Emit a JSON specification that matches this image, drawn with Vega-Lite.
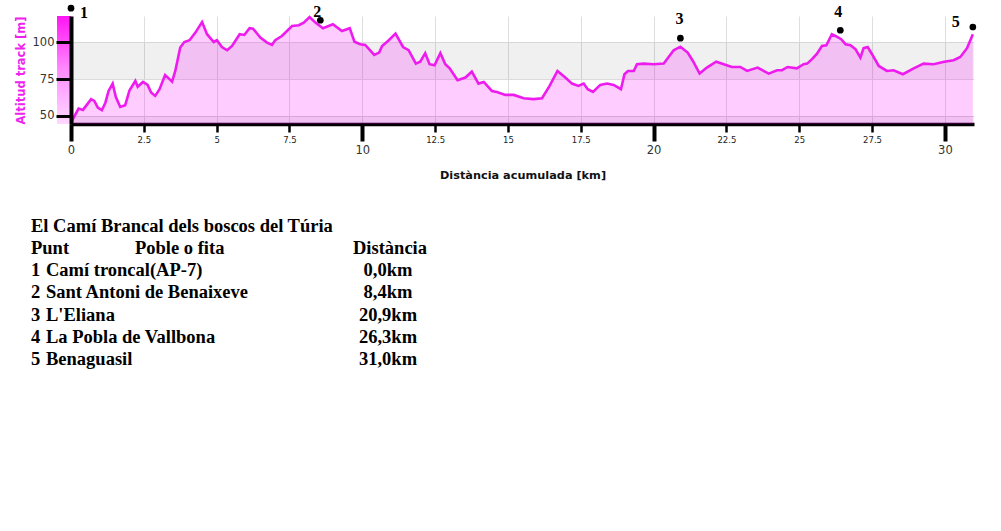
{
  "$schema": "https://vega.github.io/schema/vega-lite/v6.json",
  "background": "white",
  "padding": {"left": 15, "top": 4, "right": 0, "bottom": 0},
  "bounds": "flush",
  "spacing": 96.6,
  "config": {"view": {"stroke": null}, "font": "DejaVu Sans"},
  "datasets": {
    "perfil": [
      {"km": 0.0, "alt": 45.5}, {"km": 0.26, "alt": 55.0}, {"km": 0.41, "alt": 54.1}, {"km": 0.69, "alt": 61.4},
      {"km": 0.8, "alt": 60.2}, {"km": 0.92, "alt": 55.6}, {"km": 1.06, "alt": 53.9}, {"km": 1.18, "alt": 59.0},
      {"km": 1.29, "alt": 67.0}, {"km": 1.43, "alt": 72.0}, {"km": 1.54, "alt": 62.9}, {"km": 1.69, "alt": 56.1},
      {"km": 1.86, "alt": 57.3}, {"km": 2.01, "alt": 67.5}, {"km": 2.21, "alt": 73.8}, {"km": 2.29, "alt": 69.9},
      {"km": 2.47, "alt": 73.1}, {"km": 2.63, "alt": 71.1}, {"km": 2.75, "alt": 65.9}, {"km": 2.89, "alt": 63.6},
      {"km": 3.04, "alt": 68.2}, {"km": 3.23, "alt": 77.9}, {"km": 3.47, "alt": 73.3}, {"km": 3.58, "alt": 80.6},
      {"km": 3.75, "alt": 96.5}, {"km": 3.89, "alt": 100.3}, {"km": 4.07, "alt": 101.5}, {"km": 4.27, "alt": 106.7},
      {"km": 4.5, "alt": 113.9}, {"km": 4.67, "alt": 105.6}, {"km": 4.9, "alt": 100.3}, {"km": 5.01, "alt": 101.5},
      {"km": 5.18, "alt": 96.9}, {"km": 5.36, "alt": 94.7}, {"km": 5.53, "alt": 97.6}, {"km": 5.79, "alt": 105.6},
      {"km": 5.95, "alt": 105.1}, {"km": 6.13, "alt": 109.7}, {"km": 6.25, "alt": 109.4}, {"km": 6.5, "alt": 103.3},
      {"km": 6.73, "alt": 99.9}, {"km": 6.9, "alt": 98.3}, {"km": 7.01, "alt": 101.5}, {"km": 7.24, "alt": 104.4},
      {"km": 7.59, "alt": 111.2}, {"km": 7.82, "alt": 111.7}, {"km": 7.99, "alt": 113.5}, {"km": 8.19, "alt": 117.3},
      {"km": 8.39, "alt": 113.5}, {"km": 8.65, "alt": 109.7}, {"km": 8.99, "alt": 112.4}, {"km": 9.3, "alt": 107.8},
      {"km": 9.57, "alt": 109.7}, {"km": 9.73, "alt": 100.5}, {"km": 9.93, "alt": 98.8}, {"km": 10.1, "alt": 98.3},
      {"km": 10.41, "alt": 91.5}, {"km": 10.58, "alt": 93.1}, {"km": 10.68, "alt": 97.6}, {"km": 10.91, "alt": 101.5},
      {"km": 11.14, "alt": 106.0}, {"km": 11.4, "alt": 96.9}, {"km": 11.59, "alt": 94.7}, {"km": 11.84, "alt": 85.6},
      {"km": 11.99, "alt": 86.9}, {"km": 12.16, "alt": 92.7}, {"km": 12.31, "alt": 85.2}, {"km": 12.48, "alt": 84.5},
      {"km": 12.68, "alt": 92.7}, {"km": 12.85, "alt": 85.2}, {"km": 13.0, "alt": 82.4}, {"km": 13.27, "alt": 74.3},
      {"km": 13.54, "alt": 76.1}, {"km": 13.76, "alt": 80.1}, {"km": 13.99, "alt": 72.0}, {"km": 14.17, "alt": 73.1},
      {"km": 14.45, "alt": 67.0}, {"km": 14.62, "alt": 66.3}, {"km": 14.91, "alt": 64.3}, {"km": 15.2, "alt": 64.3},
      {"km": 15.54, "alt": 62.0}, {"km": 15.88, "alt": 61.4}, {"km": 16.17, "alt": 62.0}, {"km": 16.43, "alt": 70.4},
      {"km": 16.7, "alt": 80.6}, {"km": 16.97, "alt": 76.1}, {"km": 17.2, "alt": 72.0}, {"km": 17.42, "alt": 70.4},
      {"km": 17.6, "alt": 72.0}, {"km": 17.74, "alt": 68.2}, {"km": 17.92, "alt": 66.3}, {"km": 18.17, "alt": 71.1},
      {"km": 18.4, "alt": 72.0}, {"km": 18.63, "alt": 71.1}, {"km": 18.88, "alt": 68.2}, {"km": 19.0, "alt": 78.4},
      {"km": 19.12, "alt": 80.6}, {"km": 19.32, "alt": 80.6}, {"km": 19.43, "alt": 85.2}, {"km": 19.66, "alt": 85.6},
      {"km": 20.0, "alt": 85.2}, {"km": 20.35, "alt": 85.6}, {"km": 20.69, "alt": 94.7}, {"km": 20.92, "alt": 97.1},
      {"km": 21.17, "alt": 93.1}, {"km": 21.35, "alt": 87.4}, {"km": 21.58, "alt": 78.8}, {"km": 21.83, "alt": 82.9},
      {"km": 22.15, "alt": 86.9}, {"km": 22.41, "alt": 85.2}, {"km": 22.69, "alt": 83.3}, {"km": 22.98, "alt": 83.3},
      {"km": 23.21, "alt": 80.6}, {"km": 23.57, "alt": 82.9}, {"km": 23.95, "alt": 78.8}, {"km": 24.24, "alt": 81.1},
      {"km": 24.41, "alt": 81.1}, {"km": 24.6, "alt": 83.3}, {"km": 24.92, "alt": 82.4}, {"km": 25.15, "alt": 85.2},
      {"km": 25.27, "alt": 85.6}, {"km": 25.44, "alt": 88.6}, {"km": 25.61, "alt": 92.4}, {"km": 25.78, "alt": 97.6},
      {"km": 25.93, "alt": 98.1}, {"km": 26.12, "alt": 105.6}, {"km": 26.24, "alt": 104.4}, {"km": 26.44, "alt": 102.2},
      {"km": 26.59, "alt": 98.8}, {"km": 26.76, "alt": 98.1}, {"km": 26.93, "alt": 95.4}, {"km": 27.1, "alt": 89.7},
      {"km": 27.21, "alt": 96.1}, {"km": 27.35, "alt": 96.9}, {"km": 27.5, "alt": 92.0}, {"km": 27.73, "alt": 84.0},
      {"km": 28.01, "alt": 80.6}, {"km": 28.24, "alt": 81.1}, {"km": 28.56, "alt": 78.4}, {"km": 28.93, "alt": 82.4},
      {"km": 29.27, "alt": 85.6}, {"km": 29.61, "alt": 85.2}, {"km": 29.98, "alt": 86.9}, {"km": 30.3, "alt": 87.9},
      {"km": 30.53, "alt": 90.1}, {"km": 30.76, "alt": 96.1}, {"km": 30.96, "alt": 105.6}
    ],
    "punts": [
      {"punt": 1, "lloc": "Camí troncal(AP-7)", "distancia": "0,0km", "km": 0.0, "alt": 123.3},
      {"punt": 2, "lloc": "Sant Antoni de Benaixeve", "distancia": "8,4km", "km": 8.56, "alt": 115.1},
      {"punt": 3, "lloc": "L'Eliana", "distancia": "20,9km", "km": 20.92, "alt": 102.9},
      {"punt": 4, "lloc": "La Pobla de Vallbona", "distancia": "26,3km", "km": 26.41, "alt": 108.3},
      {"punt": 5, "lloc": "Benaguasil", "distancia": "31,0km", "km": 30.96, "alt": 110.5}
    ],
    "bandes": [
      {"desde": 44.5, "fins": 50},
      {"desde": 75, "fins": 100}
    ]
  },
  "vconcat": [
    {
      "width": 903,
      "height": 108,
      "resolve": {"axis": {"x": "independent", "y": "independent"}},
      "layer": [
        {
          "data": {"name": "bandes"},
          "mark": {"type": "rect", "color": "#000000", "opacity": 0.058},
          "encoding": {
            "x": {"datum": 0, "type": "quantitative", "scale": {"domain": [0, 31], "nice": false, "zero": false}, "axis": null},
            "x2": {"datum": 31},
            "y": {"field": "desde", "type": "quantitative", "scale": {"domain": [44.5, 118], "nice": false, "zero": false}, "axis": null},
            "y2": {"field": "fins"}
          }
        },
        {
          "data": {"name": "perfil"},
          "mark": {"type": "area", "color": "#ff00ff", "opacity": 0.2},
          "encoding": {
            "x": {"field": "km", "type": "quantitative", "scale": {"domain": [0, 31], "nice": false, "zero": false},
              "axis": {"orient": "bottom", "values": [0, 2.5, 5, 7.5, 10, 12.5, 15, 17.5, 20, 22.5, 25, 27.5, 30],
                "labelExpr": "datum.value % 10 === 0 ? '' : '' + datum.value",
                "domain": false, "tickSize": 8, "tickWidth": 2.5, "tickColor": "#000000",
                "labelFont": "DejaVu Sans", "labelFontSize": 8.5, "labelColor": "#222222", "labelPadding": 3,
                "labelFlush": false, "labelOverlap": false, "labelBound": false,
                "grid": true, "gridColor": "#dedede", "gridWidth": 1, "title": null}},
            "y": {"field": "alt", "type": "quantitative", "scale": {"domain": [44.5, 118], "nice": false, "zero": false},
              "axis": {"orient": "left", "values": [50, 75, 100], "grid": true, "gridColor": "#dedede", "gridWidth": 1,
                "domain": false, "ticks": false, "labels": false, "title": null}},
            "y2": {"datum": 44.5}
          }
        },
        {
          "data": {"values": [{}]},
          "mark": {"type": "rect", "color": {"gradient": "linear", "x1": 0, "y1": 1, "x2": 0, "y2": 0,
            "stops": [{"offset": 0, "color": "#ffd8ff"}, {"offset": 0.5, "color": "#ff8cff"}, {"offset": 1, "color": "#ff14f4"}]}},
          "encoding": {
            "x": {"datum": -0.48, "type": "quantitative", "scale": {"domain": [0, 31], "nice": false, "zero": false}, "axis": null},
            "x2": {"datum": 0},
            "y": {"datum": 44.5, "type": "quantitative", "scale": {"domain": [44.5, 118], "nice": false, "zero": false}, "axis": null},
            "y2": {"datum": 118}
          }
        },
        {
          "data": {"name": "perfil"},
          "mark": {"type": "line", "color": "#ee1bee", "strokeWidth": 2.6},
          "encoding": {
            "x": {"field": "km", "type": "quantitative", "scale": {"domain": [0, 31], "nice": false, "zero": false},
              "axis": {"orient": "bottom", "values": [0, 10, 20, 30], "labelExpr": "'' + datum.value",
                "domain": true, "domainColor": "#000000", "domainWidth": 3.5,
                "tickSize": 17, "tickWidth": 4, "tickColor": "#000000",
                "labelFont": "DejaVu Sans", "labelFontSize": 11.5, "labelColor": "#333333", "labelPadding": 3,
                "labelFlush": false, "labelOverlap": false, "labelBound": false, "grid": false,
                "title": "Distància acumulada [km]", "titleFont": "DejaVu Sans", "titleFontSize": 11.3,
                "titleFontWeight": "bold", "titleColor": "#111111", "titlePadding": 14}},
            "y": {"field": "alt", "type": "quantitative", "scale": {"domain": [44.5, 118], "nice": false, "zero": false},
              "axis": {"orient": "left", "values": [50, 75, 100], "zindex": 1, "grid": false,
                "domain": true, "domainColor": "#000000", "domainWidth": 4,
                "tickSize": 15, "tickWidth": 3, "tickColor": "#000000",
                "labelFont": "DejaVu Sans", "labelFontSize": 11.5, "labelColor": "#333333", "labelPadding": 2,
                "title": "Altitud track [m]", "titleFont": "DejaVu Sans", "titleFontSize": 11.5,
                "titleFontWeight": "bold", "titleColor": "#ee22ee", "titlePadding": 6}}
          }
        },
        {
          "data": {"name": "punts"},
          "mark": {"type": "circle", "color": "#000000", "opacity": 1, "size": 45},
          "encoding": {
            "x": {"field": "km", "type": "quantitative", "scale": {"domain": [0, 31], "nice": false, "zero": false}, "axis": null},
            "y": {"field": "alt", "type": "quantitative", "scale": {"domain": [44.5, 118], "nice": false, "zero": false}, "axis": null}
          }
        },
        {
          "data": {"name": "punts"},
          "transform": [{"filter": "datum.punt == 1"}],
          "mark": {"type": "text", "font": "Liberation Serif", "fontWeight": "bold", "fontSize": 16, "color": "#000000", "baseline": "middle", "align": "center", "dx": 13, "dy": 5},
          "encoding": {
            "x": {"field": "km", "type": "quantitative", "scale": {"domain": [0, 31], "nice": false, "zero": false}, "axis": null},
            "y": {"field": "alt", "type": "quantitative", "scale": {"domain": [44.5, 118], "nice": false, "zero": false}, "axis": null},
            "text": {"field": "punt"}
          }
        },
        {
          "data": {"name": "punts"},
          "transform": [{"filter": "datum.punt == 2"}],
          "mark": {"type": "text", "font": "Liberation Serif", "fontWeight": "bold", "fontSize": 16, "color": "#000000", "baseline": "middle", "align": "center", "dx": -3, "dy": -8},
          "encoding": {
            "x": {"field": "km", "type": "quantitative", "scale": {"domain": [0, 31], "nice": false, "zero": false}, "axis": null},
            "y": {"field": "alt", "type": "quantitative", "scale": {"domain": [44.5, 118], "nice": false, "zero": false}, "axis": null},
            "text": {"field": "punt"}
          }
        },
        {
          "data": {"name": "punts"},
          "transform": [{"filter": "datum.punt == 3"}],
          "mark": {"type": "text", "font": "Liberation Serif", "fontWeight": "bold", "fontSize": 16, "color": "#000000", "baseline": "middle", "align": "center", "dx": -1, "dy": -19},
          "encoding": {
            "x": {"field": "km", "type": "quantitative", "scale": {"domain": [0, 31], "nice": false, "zero": false}, "axis": null},
            "y": {"field": "alt", "type": "quantitative", "scale": {"domain": [44.5, 118], "nice": false, "zero": false}, "axis": null},
            "text": {"field": "punt"}
          }
        },
        {
          "data": {"name": "punts"},
          "transform": [{"filter": "datum.punt == 4"}],
          "mark": {"type": "text", "font": "Liberation Serif", "fontWeight": "bold", "fontSize": 16, "color": "#000000", "baseline": "middle", "align": "center", "dx": -2, "dy": -18},
          "encoding": {
            "x": {"field": "km", "type": "quantitative", "scale": {"domain": [0, 31], "nice": false, "zero": false}, "axis": null},
            "y": {"field": "alt", "type": "quantitative", "scale": {"domain": [44.5, 118], "nice": false, "zero": false}, "axis": null},
            "text": {"field": "punt"}
          }
        },
        {
          "data": {"name": "punts"},
          "transform": [{"filter": "datum.punt == 5"}],
          "mark": {"type": "text", "font": "Liberation Serif", "fontWeight": "bold", "fontSize": 16, "color": "#000000", "baseline": "middle", "align": "center", "dx": -17, "dy": -5.5},
          "encoding": {
            "x": {"field": "km", "type": "quantitative", "scale": {"domain": [0, 31], "nice": false, "zero": false}, "axis": null},
            "y": {"field": "alt", "type": "quantitative", "scale": {"domain": [44.5, 118], "nice": false, "zero": false}, "axis": null},
            "text": {"field": "punt"}
          }
        }
      ]
    },
    {
      "width": 400,
      "height": 155.4,
      "layer": [
        {
          "data": {"values": [{}]},
          "mark": {"type": "text", "font": "Liberation Serif", "fontWeight": "bold", "fontSize": 18.5, "color": "#000000", "align": "left", "baseline": "alphabetic"},
          "encoding": {
            "x": {"datum": -40, "type": "quantitative", "scale": {"domain": [0, 400], "nice": false, "zero": false}, "axis": null},
            "y": {"datum": -1, "type": "quantitative", "scale": {"domain": [-1.5, 5.5], "nice": false, "zero": false, "reverse": true}, "axis": null},
            "text": {"value": "El Camí Brancal dels boscos del Túria"}
          }
        },
        {
          "data": {"values": [{}]},
          "mark": {"type": "text", "font": "Liberation Serif", "fontWeight": "bold", "fontSize": 18.5, "color": "#000000", "align": "left", "baseline": "alphabetic"},
          "encoding": {
            "x": {"datum": -40, "type": "quantitative", "scale": {"domain": [0, 400], "nice": false, "zero": false}, "axis": null},
            "y": {"datum": 0, "type": "quantitative", "scale": {"domain": [-1.5, 5.5], "nice": false, "zero": false, "reverse": true}, "axis": null},
            "text": {"value": "Punt"}
          }
        },
        {
          "data": {"values": [{}]},
          "mark": {"type": "text", "font": "Liberation Serif", "fontWeight": "bold", "fontSize": 18.5, "color": "#000000", "align": "left", "baseline": "alphabetic"},
          "encoding": {
            "x": {"datum": 64, "type": "quantitative", "scale": {"domain": [0, 400], "nice": false, "zero": false}, "axis": null},
            "y": {"datum": 0, "type": "quantitative", "scale": {"domain": [-1.5, 5.5], "nice": false, "zero": false, "reverse": true}, "axis": null},
            "text": {"value": "Poble o fita"}
          }
        },
        {
          "data": {"values": [{}]},
          "mark": {"type": "text", "font": "Liberation Serif", "fontWeight": "bold", "fontSize": 18.5, "color": "#000000", "align": "left", "baseline": "alphabetic"},
          "encoding": {
            "x": {"datum": 282, "type": "quantitative", "scale": {"domain": [0, 400], "nice": false, "zero": false}, "axis": null},
            "y": {"datum": 0, "type": "quantitative", "scale": {"domain": [-1.5, 5.5], "nice": false, "zero": false, "reverse": true}, "axis": null},
            "text": {"value": "Distància"}
          }
        },
        {
          "data": {"name": "punts"},
          "mark": {"type": "text", "font": "Liberation Serif", "fontWeight": "bold", "fontSize": 18.5, "color": "#000000", "align": "left", "baseline": "alphabetic"},
          "encoding": {
            "x": {"datum": -40, "type": "quantitative", "scale": {"domain": [0, 400], "nice": false, "zero": false}, "axis": null},
            "y": {"field": "punt", "type": "quantitative", "scale": {"domain": [-1.5, 5.5], "nice": false, "zero": false, "reverse": true}, "axis": null},
            "text": {"field": "punt"}
          }
        },
        {
          "data": {"name": "punts"},
          "mark": {"type": "text", "font": "Liberation Serif", "fontWeight": "bold", "fontSize": 18.5, "color": "#000000", "align": "left", "baseline": "alphabetic"},
          "encoding": {
            "x": {"datum": -25, "type": "quantitative", "scale": {"domain": [0, 400], "nice": false, "zero": false}, "axis": null},
            "y": {"field": "punt", "type": "quantitative", "scale": {"domain": [-1.5, 5.5], "nice": false, "zero": false, "reverse": true}, "axis": null},
            "text": {"field": "lloc"}
          }
        },
        {
          "data": {"name": "punts"},
          "mark": {"type": "text", "font": "Liberation Serif", "fontWeight": "bold", "fontSize": 18.5, "color": "#000000", "align": "center", "baseline": "alphabetic"},
          "encoding": {
            "x": {"datum": 317, "type": "quantitative", "scale": {"domain": [0, 400], "nice": false, "zero": false}, "axis": null},
            "y": {"field": "punt", "type": "quantitative", "scale": {"domain": [-1.5, 5.5], "nice": false, "zero": false, "reverse": true}, "axis": null},
            "text": {"field": "distancia"}
          }
        }
      ]
    }
  ]
}
